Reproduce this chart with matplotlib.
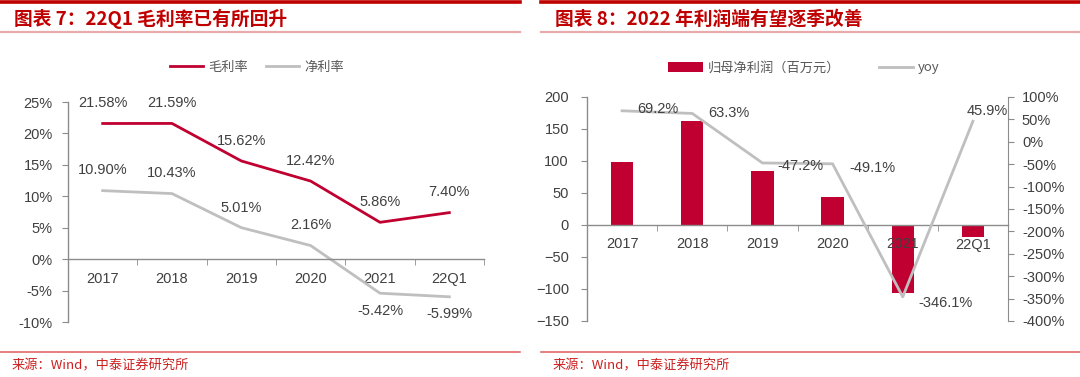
import matplotlib
matplotlib.use("Agg")
import matplotlib.pyplot as plt
from matplotlib.lines import Line2D
import numpy as np

plt.rcParams['font.family'] = ['Liberation Sans', 'Noto Sans CJK SC', 'DejaVu Sans']
CJK = ['Noto Sans CJK SC', 'DejaVu Sans']

# ---------------- data ----------------
categories = ['2017', '2018', '2019', '2020', '2021', '22Q1']
gross_margin = [21.58, 21.59, 15.62, 12.42, 5.86, 7.40]
net_margin = [10.90, 10.43, 5.01, 2.16, -5.42, -5.99]
left_yticks = [25, 20, 15, 10, 5, 0, -5, -10]

net_profit = [99, 162, 85, 43, -107, -19]
yoy = [69.2, 63.3, -47.2, -49.1, -346.1, 45.9]
right_yticks_l = [200, 150, 100, 50, 0, -50, -100, -150]
right_yticks_r = [100, 50, 0, -50, -100, -150, -200, -250, -300, -350, -400]

title_left = '图表 7：22Q1 毛利率已有所回升'
title_right = '图表 8：2022 年利润端有望逐季改善'
source = '来源：Wind，中泰证券研究所'
legend_left = ['毛利率', '净利率']
legend_right = ['归母净利润（百万元）', 'yoy']

RED = '#C00030'
GRAY = '#BFBFBF'
TXT = '#404040'
AX = '#8C8C8C'
W, H = 1080, 377

fig = plt.figure(figsize=(W / 100, H / 100), dpi=100)

def fx(px):
    return px / W

def fy(py):
    return 1 - py / H

# ---------------- decorations ----------------
for (x0, x1) in [(0, 520), (541, 1080)]:
    fig.add_artist(Line2D([fx(x0), fx(x1)], [fy(1.5), fy(1.5)], color='#C00000', lw=2.6))
    fig.add_artist(Line2D([fx(x0), fx(x1)], [fy(32), fy(32)], color='#E8AAAA', lw=1.6))
    fig.add_artist(Line2D([fx(x0), fx(x1)], [fy(352), fy(352)], color='#E05A5A', lw=1.1))

fig.text(fx(14), fy(19), title_left, color='#C00000', fontsize=13.5, fontweight='bold',
         family=CJK, va='center', ha='left', style='italic')
fig.text(fx(555), fy(19), title_right, color='#C00000', fontsize=13.5, fontweight='bold',
         family=CJK, va='center', ha='left', style='italic')
fig.text(fx(12), fy(366), source, color='#CC2020', fontsize=9.5, family=CJK, va='center', ha='left')
fig.text(fx(553), fy(366), source, color='#CC2020', fontsize=9.5, family=CJK, va='center', ha='left')

x = np.arange(len(categories))

def style_common(ax):
    for s in ['top', 'right']:
        ax.spines[s].set_visible(False)
    ax.spines['left'].set_color(AX)
    ax.spines['bottom'].set_color(AX)
    ax.spines['left'].set_linewidth(1.0)
    ax.spines['bottom'].set_linewidth(1.0)
    ax.spines['bottom'].set_position(('data', 0))
    ax.set_xlim(-0.5, len(categories) - 0.5)
    ax.set_xticks(x)
    ax.set_xticklabels(categories)
    ax.set_xticks(np.arange(-0.5, len(categories), 1), minor=True)
    ax.tick_params(axis='x', which='major', length=0, pad=9, labelsize=10.5, labelcolor=TXT)
    ax.tick_params(axis='x', which='minor', length=4, color=AX, direction='out')
    ax.tick_params(axis='y', length=4, color=AX, direction='out', labelsize=10.5, labelcolor=TXT)

# ---------------- left chart ----------------
axL = fig.add_axes([fx(68), fy(322), fx(484 - 68), fy(102) - fy(322)])
style_common(axL)
axL.set_ylim(-10, 25)
axL.set_yticks(left_yticks)
axL.set_yticklabels([f'{v}%' for v in left_yticks])
axL.tick_params(axis='y', pad=7)
l1, = axL.plot(x, gross_margin, color=RED, lw=2.0, solid_joinstyle='round')
l2, = axL.plot(x, net_margin, color=GRAY, lw=2.0, solid_joinstyle='round')
for i, v in enumerate(gross_margin):
    axL.annotate(f'{v:.2f}%', (x[i], v), xytext=(0, 14.5), textcoords='offset points',
                 ha='center', va='center', fontsize=10.5, color=TXT)
for i, v in enumerate(net_margin):
    dy = 14.5 if v > 0 else -12.5
    axL.annotate(f'{v:.2f}%', (x[i], v), xytext=(0, dy), textcoords='offset points',
                 ha='center', va='center', fontsize=10.5, color=TXT)
fig.legend([l1, l2], legend_left, loc='center', bbox_to_anchor=(fx(257), fy(67)), ncol=2,
           frameon=False, handlelength=2.5, columnspacing=1.4, handletextpad=0.4,
           prop={'family': CJK, 'size': 9.5}, labelcolor='#595959')

# ---------------- right chart ----------------
axR = fig.add_axes([fx(587), fy(321), fx(1008 - 587), fy(97) - fy(321)])
style_common(axR)
axR.set_ylim(-150, 200)
axR.set_yticks(right_yticks_l)
axR.tick_params(axis='y', pad=9)
bars = axR.bar(x, net_profit, width=0.32, color=RED, zorder=2)
axR.set_axisbelow(False)
axR.xaxis.set_zorder(3)

ax2 = axR.twinx()
ax2.set_xlim(-0.5, len(categories) - 0.5)
ax2.set_ylim(-400, 100)
ax2.set_yticks(right_yticks_r)
ax2.set_yticklabels([f'{v}%' for v in right_yticks_r])
for s in ['top', 'left', 'bottom']:
    ax2.spines[s].set_visible(False)
ax2.spines['right'].set_color(AX)
ax2.tick_params(axis='y', length=4, color=AX, direction='out', labelsize=10.5,
                labelcolor=TXT, pad=6)
l3, = ax2.plot(x, yoy, color=GRAY, lw=2.0, solid_joinstyle='round')
offs = [(11, 1), (11.5, 0), (11, -2), (12, -3), (11.5, -4.5), (-4.5, 7.6)]
for i, v in enumerate(yoy):
    dx, dy = offs[i]
    ax2.annotate(f'{v:.1f}%', (x[i], v), xytext=(dx, dy), textcoords='offset points',
                 ha='left', va='center', fontsize=10.5, color=TXT)
fig.legend([bars, l3], legend_right, loc='center', bbox_to_anchor=(fx(804), fy(68)), ncol=2,
           frameon=False, handlelength=2.6, columnspacing=2.9, handletextpad=0.4,
           prop={'family': CJK, 'size': 9.5}, labelcolor='#595959')

fig.savefig('out.png', dpi=100)
